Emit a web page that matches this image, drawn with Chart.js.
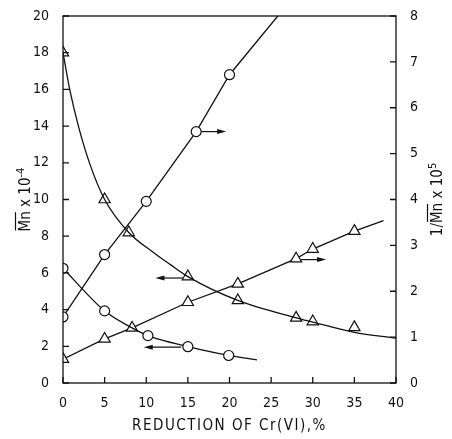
<!DOCTYPE html>
<html>
<head>
<meta charset="utf-8">
<script src="https://cdn.jsdelivr.net/npm/chart.js@4.4.0/dist/chart.umd.min.js"></script>
<style>
  html, body { margin: 0; padding: 0; background: #fff; }
  #wrap { width: 452px; height: 439px; }
</style>
</head>
<body>
<div id="wrap"><canvas id="mnChart" width="452" height="439"></canvas></div>
<script>
// Mn against reduction of Cr(VI), % : measured triangles and the fitted curve through them
const triDownX = [0, 5, 7.9, 15, 21, 28, 30, 35];
const triDownMn = [18, 10, 8.2, 5.8, 4.5, 3.55, 3.35, 3.03];
const triCurveX = [0, 0.85, 1.85, 3.25, 5, 7.9, 10.9, 12.9, 15, 21, 28, 30, 35, 40];
const triCurveMn = [18, 15.9, 14, 11.9, 10, 8.2, 7.1, 6.45, 5.8, 4.5, 3.55, 3.32, 2.76, 2.44];
// Mn, circles (line runs on past the last circle)
const circDownX = [0, 5, 10.2, 15, 19.9, 23.3];
const circDownMn = [6.25, 3.93, 2.58, 1.98, 1.5, 1.26];
// 1/Mn against reduction of Cr(VI), %
const circUpX = [0, 5, 10, 16, 20, 25.8];
const circUpInv = [1.44, 2.8, 3.96, 5.48, 6.72, 8];
const triUpX = [0, 5, 8.3, 15, 21, 28, 30, 35, 38.5];
const triUpInv = [0.52, 0.96, 1.2, 1.76, 2.16, 2.71, 2.92, 3.31, 3.54];
// axis ticks
const xTicks = [0, 5, 10, 15, 20, 25, 30, 35, 40];
const leftTicks = [0, 2, 4, 6, 8, 10, 12, 14, 16, 18, 20];
const rightTicks = [0, 1, 2, 3, 4, 5, 6, 7, 8];

const FONT = '"Liberation Sans Narrow", "DejaVu Sans Condensed", "Liberation Sans", sans-serif';
const INK = '#111';

function pts(xs, ys) {
  return xs.map((x, i) => ({ x: x, y: ys[i] }));
}

function series(xs, ys, axis, opts) {
  return Object.assign({
    data: pts(xs, ys),
    yAxisID: axis,
    borderColor: INK,
    borderWidth: 1.3,
    pointBackgroundColor: '#fff',
    pointBorderColor: INK,
    pointBorderWidth: 1.2,
    tension: 0,
    fill: false,
  }, opts);
}
// symbols on every point except the trailing line end
function bareEnd(xs, r) {
  return xs.map((_, i) => (i === xs.length - 1 ? 0 : r));
}

// arrows telling which axis each curve belongs to: [x from, x to, y, axis]
const arrows = [
  [16.6, 19.6, 13.7, 'y'],
  [14.4, 11.1, 5.72, 'y'],
  [14.2, 9.7, 1.95, 'y'],
  [28.6, 31.6, 2.69, 'y2'],
];

const decor = {
  id: 'decor',
  afterDraw(chart) {
    const ctx = chart.ctx;
    const a = chart.chartArea;
    const sx = chart.scales.x, sy = chart.scales.y, sy2 = chart.scales.y2;
    ctx.save();
    ctx.strokeStyle = INK;
    ctx.fillStyle = INK;
    ctx.lineWidth = 1.3;
    ctx.strokeRect(a.left, a.top, a.right - a.left, a.bottom - a.top);

    // inward tick marks
    const tl = 6;
    ctx.beginPath();
    xTicks.forEach(v => {
      const px = sx.getPixelForValue(v);
      ctx.moveTo(px, a.bottom); ctx.lineTo(px, a.bottom - tl);
    });
    leftTicks.forEach(v => {
      const py = sy.getPixelForValue(v);
      ctx.moveTo(a.left, py); ctx.lineTo(a.left + tl, py);
    });
    rightTicks.forEach(v => {
      const py = sy2.getPixelForValue(v);
      ctx.moveTo(a.right, py); ctx.lineTo(a.right - tl, py);
    });
    ctx.stroke();

    // arrows
    ctx.lineWidth = 1.2;
    arrows.forEach(([x0, x1, yv, axis]) => {
      const s = chart.scales[axis];
      const p0 = sx.getPixelForValue(x0), p1 = sx.getPixelForValue(x1);
      const py = s.getPixelForValue(yv);
      const dir = Math.sign(p1 - p0);
      ctx.beginPath();
      ctx.moveTo(p0, py); ctx.lineTo(p1 - dir * 6, py);
      ctx.stroke();
      ctx.beginPath();
      ctx.moveTo(p1, py);
      ctx.lineTo(p1 - dir * 9, py - 2.5);
      ctx.lineTo(p1 - dir * 9, py + 2.5);
      ctx.closePath();
      ctx.fill();
    });

    // axis titles
    ctx.textBaseline = 'alphabetic';
    ctx.textAlign = 'left';
    const midY = (a.top + a.bottom) / 2;

    function rotatedTitle(cx, parts) {
      ctx.save();
      ctx.translate(cx, midY);
      ctx.rotate(-Math.PI / 2);
      let total = 0;
      parts.forEach(p => {
        ctx.font = (p.sup ? '11px ' : '15px ') + FONT;
        total += ctx.measureText(p.t).width;
      });
      let x = -total / 2;
      parts.forEach(p => {
        ctx.font = (p.sup ? '11px ' : '15px ') + FONT;
        const w = ctx.measureText(p.t).width;
        ctx.fillText(p.t, x, p.sup ? -1 : 5);
        if (p.bar) {
          ctx.beginPath();
          ctx.lineWidth = 1.2;
          ctx.moveTo(x + 1, -9.5); ctx.lineTo(x + w - 1, -9.5);
          ctx.stroke();
        }
        x += w;
      });
      ctx.restore();
    }
    rotatedTitle(25, [{ t: 'Mn', bar: true }, { t: ' x 10' }, { t: '-4', sup: true }]);
    rotatedTitle(437, [{ t: '1/' }, { t: 'Mn', bar: true }, { t: ' x 10' }, { t: '5', sup: true }]);

    ctx.font = '15px ' + FONT;
    ctx.textAlign = 'center';
    ctx.letterSpacing = '1.5px';
    ctx.fillText('REDUCTION OF Cr(VI),%', (a.left + a.right) / 2, 430);
    ctx.restore();
  }
};

new Chart(document.getElementById('mnChart'), {
  type: 'line',
  data: {
    datasets: [
      series(triCurveX, triCurveMn, 'y', { pointRadius: 0, cubicInterpolationMode: 'monotone' }),
      series(triDownX, triDownMn, 'y', { showLine: false, pointStyle: 'triangle', pointRadius: 6.5 }),
      series(circDownX, circDownMn, 'y', { pointStyle: 'circle', pointRadius: bareEnd(circDownX, 5), tension: 0.25 }),
      series(circUpX, circUpInv, 'y2', { pointStyle: 'circle', pointRadius: bareEnd(circUpX, 5) }),
      series(triUpX, triUpInv, 'y2', { pointStyle: 'triangle', pointRadius: bareEnd(triUpX, 6.5) }),
    ],
  },
  options: {
    responsive: false,
    animation: false,
    layout: { padding: { top: 16, left: 0, right: 0, bottom: 0 } },
    plugins: { legend: { display: false }, tooltip: { enabled: false } },
    scales: {
      x: {
        type: 'linear', min: 0, max: 40,
        afterBuildTicks: s => { s.ticks = xTicks.map(v => ({ value: v })); },
        afterFit: s => { s.height = 56; },
        grid: { display: false },
        border: { display: false },
        ticks: { color: INK, padding: 4, font: { family: FONT, size: 14 } },
      },
      y: {
        position: 'left', min: 0, max: 20,
        afterBuildTicks: s => { s.ticks = leftTicks.map(v => ({ value: v })); },
        afterFit: s => { s.width = 63; },
        grid: { display: false },
        border: { display: false },
        ticks: { color: INK, padding: 6, font: { family: FONT, size: 14 } },
      },
      y2: {
        position: 'right', min: 0, max: 8,
        afterBuildTicks: s => { s.ticks = rightTicks.map(v => ({ value: v })); },
        afterFit: s => { s.width = 56; },
        grid: { display: false },
        border: { display: false },
        ticks: { color: INK, padding: 6, font: { family: FONT, size: 14 } },
      },
    },
  },
  plugins: [decor],
});
</script>
</body>
</html>
